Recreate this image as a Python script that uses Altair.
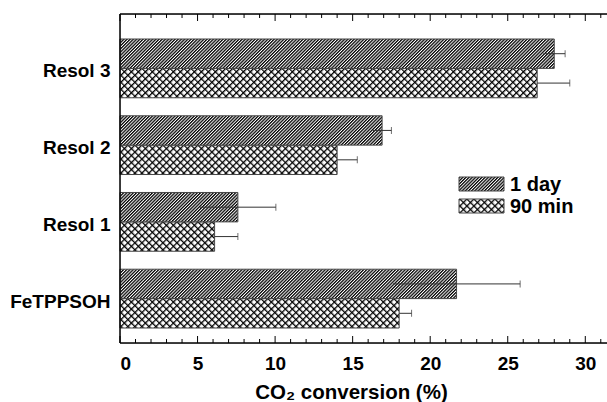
import base64
import math
import altair as alt
import pandas as pd

# ---------------- data ----------------
groups = ["Resol 3", "Resol 2", "Resol 1", "FeTPPSOH"]
series_names = ["1 day", "90 min"]
day1_values = [28.0, 16.9, 7.6, 21.7]
day1_errors = [0.7, 0.6, 2.45, 4.1]
min90_values = [26.9, 14.0, 6.1, 18.0]
min90_errors = [2.1, 1.3, 1.5, 0.8]
major_ticks = [0, 5, 10, 15, 20, 25, 30]
minor_ticks = [1, 2, 3, 4, 6, 7, 8, 9, 11, 12, 13, 14, 16, 17, 18, 19,
               21, 22, 23, 24, 26, 27, 28, 29, 31]
x_title = "CO\u2082 conversion (%)"

# ---------------- layout / style ----------------
W_PLOT, H_PLOT = 487, 329
X_MAX = 31.4
FONT = "Liberation Sans"
BAR_H = 29.5
OUTLINE = "#444444"

rows = []
for name, vals, errs in ((series_names[0], day1_values, day1_errors),
                         (series_names[1], min90_values, min90_errors)):
    for g, v, e in zip(groups, vals, errs):
        rows.append(dict(group=g, series=name, value=v, lo=v - e, hi=v + e))
df = pd.DataFrame(rows)
df_day = df[df.series == series_names[0]]
df_min = df[df.series == series_names[1]]


# ---------------- hatch pattern images (SVG data URIs) ----------------
def pattern_uri(period, line_w, angles, color):
    s = period / math.sqrt(2)
    defs, fills = "", ""
    for i, a in enumerate(angles):
        defs += (f'<pattern id="p{i}" patternUnits="userSpaceOnUse" width="{s:.4f}" '
                 f'height="{s:.4f}" patternTransform="rotate({a})">'
                 f'<rect x="0" y="0" width="{line_w:.4f}" height="{s:.4f}" fill="{color}"/>'
                 f'</pattern>')
        fills += f'<rect width="100%" height="100%" fill="url(#p{i})"/>'
    svg = ('<svg xmlns="http://www.w3.org/2000/svg" width="100%" height="100%">'
           f'<defs>{defs}</defs><rect width="100%" height="100%" fill="#ffffff"/>{fills}</svg>')
    return "data:image/svg+xml;base64," + base64.b64encode(svg.encode()).decode()


DAY_URI = pattern_uri(3.2, 3.2 / math.sqrt(2) * 0.56, [45], "#000000")
MIN_URI = pattern_uri(7.0, 1.3, [45, -45], "#000000")

x_scale = alt.Scale(domain=[0, X_MAX], nice=False, zero=False)
y_scale = alt.Scale(domain=groups, range=[25, 314], paddingInner=0.234, paddingOuter=0)
yoff_scale = alt.Scale(domain=series_names, paddingInner=0, paddingOuter=0)

x_axis = alt.Axis(title=x_title, values=major_ticks, grid=False, domain=False,
                  ticks=False, tickSize=0, labelFont=FONT, labelFontSize=19,
                  labelFontWeight="bold", labelColor="black", labelPadding=11,
                  titleFont=FONT, titleFontSize=20.5, titleFontWeight="bold",
                  titleColor="black", titleX=231, titleY=55,
                  titleBaseline="alphabetic", titleAlign="center")
y_axis = alt.Axis(title=None, domain=False, ticks=False, grid=False,
                  labelFont=FONT, labelFontSize=19, labelFontWeight="bold",
                  labelColor="black", labelPadding=10, labelOffset=3)

Y = alt.Y("group:N", scale=y_scale, axis=y_axis)
YO = alt.YOffset("series:N", scale=yoff_scale)


def enc(xfield="value:Q", **extra):
    return dict(x=alt.X(xfield, scale=x_scale, axis=x_axis, stack=None),
                y=Y, yOffset=YO, **extra)


def hatch_layer(data, uri):
    return alt.Chart(data).mark_image(
        width={"expr": "scale('x', datum.value)"}, height=BAR_H,
        aspect=False, align="left", baseline="middle",
    ).encode(x=alt.X(datum=0, scale=x_scale, axis=x_axis), y=Y, yOffset=YO,
             url=alt.value(uri))


def outline_layer(data):
    return alt.Chart(data).mark_bar(fill="transparent", stroke=OUTLINE,
                                    strokeWidth=1).encode(**enc())


err_min = alt.Chart(df_min).mark_rule(color="#333333", strokeWidth=1).encode(
    **enc("lo:Q", x2="hi:Q"))
err_day = alt.Chart(df_day).mark_rule(color="#333333", strokeWidth=1).encode(
    **enc("lo:Q", x2="hi:Q"))
caps = alt.Chart(df).mark_tick(color="#333333", thickness=1, size=7).encode(
    **enc("hi:Q"))

# axis ticks (inward) and frame
df_major = pd.DataFrame({"t": major_ticks})
df_minor = pd.DataFrame({"t": minor_ticks})
tx = alt.X("t:Q", scale=x_scale, axis=x_axis)
tick_layers = [
    alt.Chart(df_major).mark_rule(color="black", strokeWidth=1).encode(
        x=tx, y=alt.value(0), y2=alt.value(7)),
    alt.Chart(df_major).mark_rule(color="black", strokeWidth=1).encode(
        x=tx, y=alt.value(H_PLOT), y2=alt.value(H_PLOT - 7)),
    alt.Chart(df_minor).mark_rule(color="black", strokeWidth=1).encode(
        x=tx, y=alt.value(0), y2=alt.value(4)),
    alt.Chart(df_minor).mark_rule(color="black", strokeWidth=1).encode(
        x=tx, y=alt.value(H_PLOT), y2=alt.value(H_PLOT - 4)),
]
one = pd.DataFrame({"k": [0]})
frame = [
    alt.Chart(one).mark_rule(color="black", strokeWidth=1.5).encode(
        x=alt.value(0), x2=alt.value(W_PLOT), y=alt.value(0)),
    alt.Chart(one).mark_rule(color="black", strokeWidth=1.5).encode(
        x=alt.value(0), x2=alt.value(W_PLOT), y=alt.value(H_PLOT)),
    alt.Chart(one).mark_rule(color="black", strokeWidth=1.5).encode(
        x=alt.value(0), y=alt.value(0), y2=alt.value(H_PLOT)),
]

# custom legend
SW_X, SW_W, SW_H = 339, 45, 14
SW_Y = [163, 185]
legend = []
for name, uri, yy in zip(series_names, [DAY_URI, MIN_URI], SW_Y):
    d = pd.DataFrame({"series": [name]})
    legend += [
        alt.Chart(d).mark_image(width=SW_W, height=SW_H, aspect=False,
                                align="left", baseline="top").encode(
            x=alt.value(SW_X), y=alt.value(yy), url=alt.value(uri)),
        alt.Chart(d).mark_rect(fill="transparent", stroke=OUTLINE, strokeWidth=1).encode(
            x=alt.value(SW_X), x2=alt.value(SW_X + SW_W),
            y=alt.value(yy), y2=alt.value(yy + SW_H)),
        alt.Chart(d).mark_text(align="left", baseline="alphabetic", font=FONT,
                               fontSize=20, fontWeight="bold", color="black").encode(
            x=alt.value(SW_X + SW_W + 6), y=alt.value(yy + SW_H), text="series:N"),
    ]

chart = alt.layer(
    err_min,
    hatch_layer(df_min, MIN_URI), outline_layer(df_min),
    hatch_layer(df_day, DAY_URI), outline_layer(df_day),
    err_day, caps, *tick_layers, *frame, *legend,
).properties(
    width=W_PLOT, height=H_PLOT,
    autosize=alt.AutoSizeParams(type="none"),
    padding={"left": 120, "top": 14, "right": 0, "bottom": 59},
).configure_view(stroke=None).configure(background="white")

chart.save("out.html", embed_options={"renderer": "svg", "actions": False})
